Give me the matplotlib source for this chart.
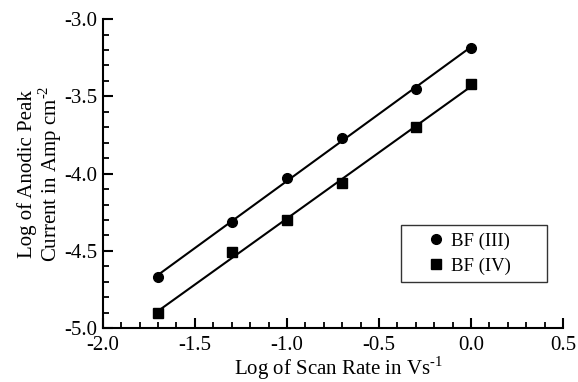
import matplotlib.pyplot as plt
import numpy as np
from matplotlib.ticker import MultipleLocator

plt.rcParams["font.family"] = ["Liberation Serif", "DejaVu Serif"]
plt.rcParams["mathtext.fontset"] = "custom"
plt.rcParams["mathtext.rm"] = "Liberation Serif"

log_scan_rate = [-1.7, -1.3, -1.0, -0.7, -0.3, 0.0]
bf3_current = [-4.67, -4.31, -4.03, -3.77, -3.45, -3.19]
bf4_current = [-4.90, -4.51, -4.30, -4.06, -3.70, -3.42]


def main():
    fig = plt.figure(figsize=(5.78, 3.82), dpi=100)
    ax = fig.add_axes([0.178, 0.141, 0.796, 0.809])

    x = np.array(log_scan_rate)
    for y, marker, label in [(bf3_current, "o", "BF (III)"), (bf4_current, "s", "BF (IV)")]:
        slope, icpt = np.polyfit(x, y, 1)
        ax.plot([x.min(), x.max()], [slope * x.min() + icpt, slope * x.max() + icpt],
                color="black", lw=1.5)
        ax.plot(x, y, marker, color="black", ms=7 if marker == "o" else 6.8,
                linestyle="none", label=label)

    ax.set_xlim(-2.0, 0.5)
    ax.set_ylim(-5.0, -3.0)
    ax.xaxis.set_major_locator(MultipleLocator(0.5))
    ax.xaxis.set_minor_locator(MultipleLocator(0.1))
    ax.yaxis.set_major_locator(MultipleLocator(0.5))
    ax.yaxis.set_minor_locator(MultipleLocator(0.1))
    ax.xaxis.set_major_formatter(lambda v, p: f"{v:.1f}".replace("\u2212", "-"))
    ax.yaxis.set_major_formatter(lambda v, p: f"{v:.1f}".replace("\u2212", "-"))

    for side in ["top", "right"]:
        ax.spines[side].set_visible(False)
    for side in ["left", "bottom"]:
        ax.spines[side].set_linewidth(1.5)
    ax.tick_params(which="major", direction="in", length=7, width=1.5, labelsize=15)
    ax.tick_params(axis="x", which="major", pad=6)
    ax.tick_params(axis="y", which="major", pad=4)
    ax.tick_params(which="minor", direction="in", length=4, width=1.3)

    ax.set_xlabel(r"Log of Scan Rate in Vs$^{\text{-1}}$", fontsize=15, va="center")
    ax.xaxis.set_label_coords(0.513, -0.13)
    ax.set_ylabel("Log of Anodic Peak\n" r"Current in Amp cm$^{\text{-2}}$", fontsize=15,
                  linespacing=0.95, va="center")
    ax.yaxis.set_label_coords(-0.136, 0.5)

    leg = ax.legend(loc="upper left", bbox_to_anchor=(0.648, 0.333, 0.317, 0.0),
                    mode="expand", fontsize=13.5,
                    frameon=True, fancybox=False, edgecolor="black",
                    handlelength=2.9, handletextpad=-0.64, borderpad=0.4,
                    labelspacing=0.4, borderaxespad=0)
    leg.get_frame().set_linewidth(1.0)

    fig.savefig("out.png", dpi=100)


if __name__ == "__main__":
    main()
